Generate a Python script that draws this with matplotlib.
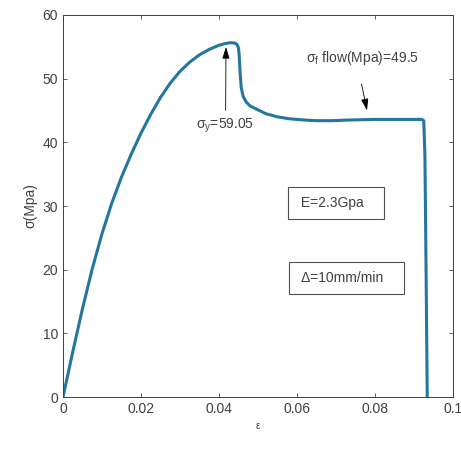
import matplotlib.pyplot as plt

plt.rcParams['font.family'] = ['Liberation Sans', 'DejaVu Sans']
plt.rcParams['mathtext.fontset'] = 'custom'
plt.rcParams['mathtext.rm'] = 'Liberation Sans'

# strain / stress
strain = [0, 0.0025, 0.005, 0.0075, 0.010, 0.0125, 0.015, 0.0175, 0.020, 0.0225,
          0.025, 0.0275, 0.030, 0.0325, 0.035, 0.0375, 0.040, 0.0415, 0.0428, 0.0440,
          0.0446, 0.0450, 0.0452, 0.0454, 0.0457, 0.0462, 0.0470, 0.0480, 0.0500, 0.0520,
          0.0550, 0.0580, 0.0620, 0.0650, 0.0690, 0.0730, 0.0800, 0.0870, 0.0920, 0.0925,
          0.0928, 0.0931, 0.0934]
stress = [0, 7.1, 13.9, 20.15, 25.65, 30.45, 34.55, 38.15, 41.45, 44.4,
          47.05, 49.3, 51.15, 52.6, 53.75, 54.6, 55.25, 55.5, 55.65, 55.6,
          55.4, 54.8, 53.5, 51.0, 48.6, 47.2, 46.3, 45.7, 45.1, 44.5,
          44.0, 43.7, 43.5, 43.4, 43.4, 43.5, 43.6, 43.6, 43.6, 43.4,
          38.0, 20.0, 0]

fig = plt.figure(figsize=(4.61, 4.53), dpi=100)
ax = fig.add_axes([0.1367, 0.1236, 0.8459, 0.8433])
ax.plot(strain, stress, color='#23769f', lw=2.2, solid_joinstyle='round')

ax.set_xlim(0, 0.1)
ax.set_ylim(0, 60)
ax.set_xticks([0, 0.02, 0.04, 0.06, 0.08, 0.1])
ax.set_xticklabels(['0', '0.02', '0.04', '0.06', '0.08', '0.1'])
ax.set_yticks([0, 10, 20, 30, 40, 50, 60])
ax.tick_params(direction='in', top=True, right=True, labelsize=10,
               colors='#404040', length=3, width=0.6)
for s in ax.spines.values():
    s.set_color('#404040')
    s.set_linewidth(0.7)

ax.set_xlabel('ε', fontsize=7, color='#404040')
ax.set_ylabel('σ(Mpa)', fontsize=10, color='#404040')

arrow = dict(arrowstyle='-|>,head_length=0.7,head_width=0.22', color='black', lw=0.6)
ax.annotate('', xy=(0.0418, 55.4), xytext=(0.0417, 44.6), arrowprops=arrow)
ax.text(0.0415, 42.6, r'$\mathrm{\sigma_y}$=59.05', ha='center', va='center', fontsize=10, color='#404040')

ax.annotate('', xy=(0.0781, 44.6), xytext=(0.0764, 49.6), arrowprops=arrow)
ax.text(0.0768, 53.2, r'$\mathrm{\sigma_f}$ flow(Mpa)=49.5', ha='center', va='center', fontsize=10, color='#404040')

box = dict(boxstyle='square,pad=0.65', fc='white', ec='#505050', lw=0.8)
ax.text(0.0700, 30.4, ' E=2.3Gpa   ', ha='center', va='center', fontsize=10, color='#404040', bbox=box)
ax.text(0.0727, 18.7, ' Δ=10mm/min   ', ha='center', va='center', fontsize=10, color='#404040', bbox=box)

fig.savefig('out.png', dpi=100)
